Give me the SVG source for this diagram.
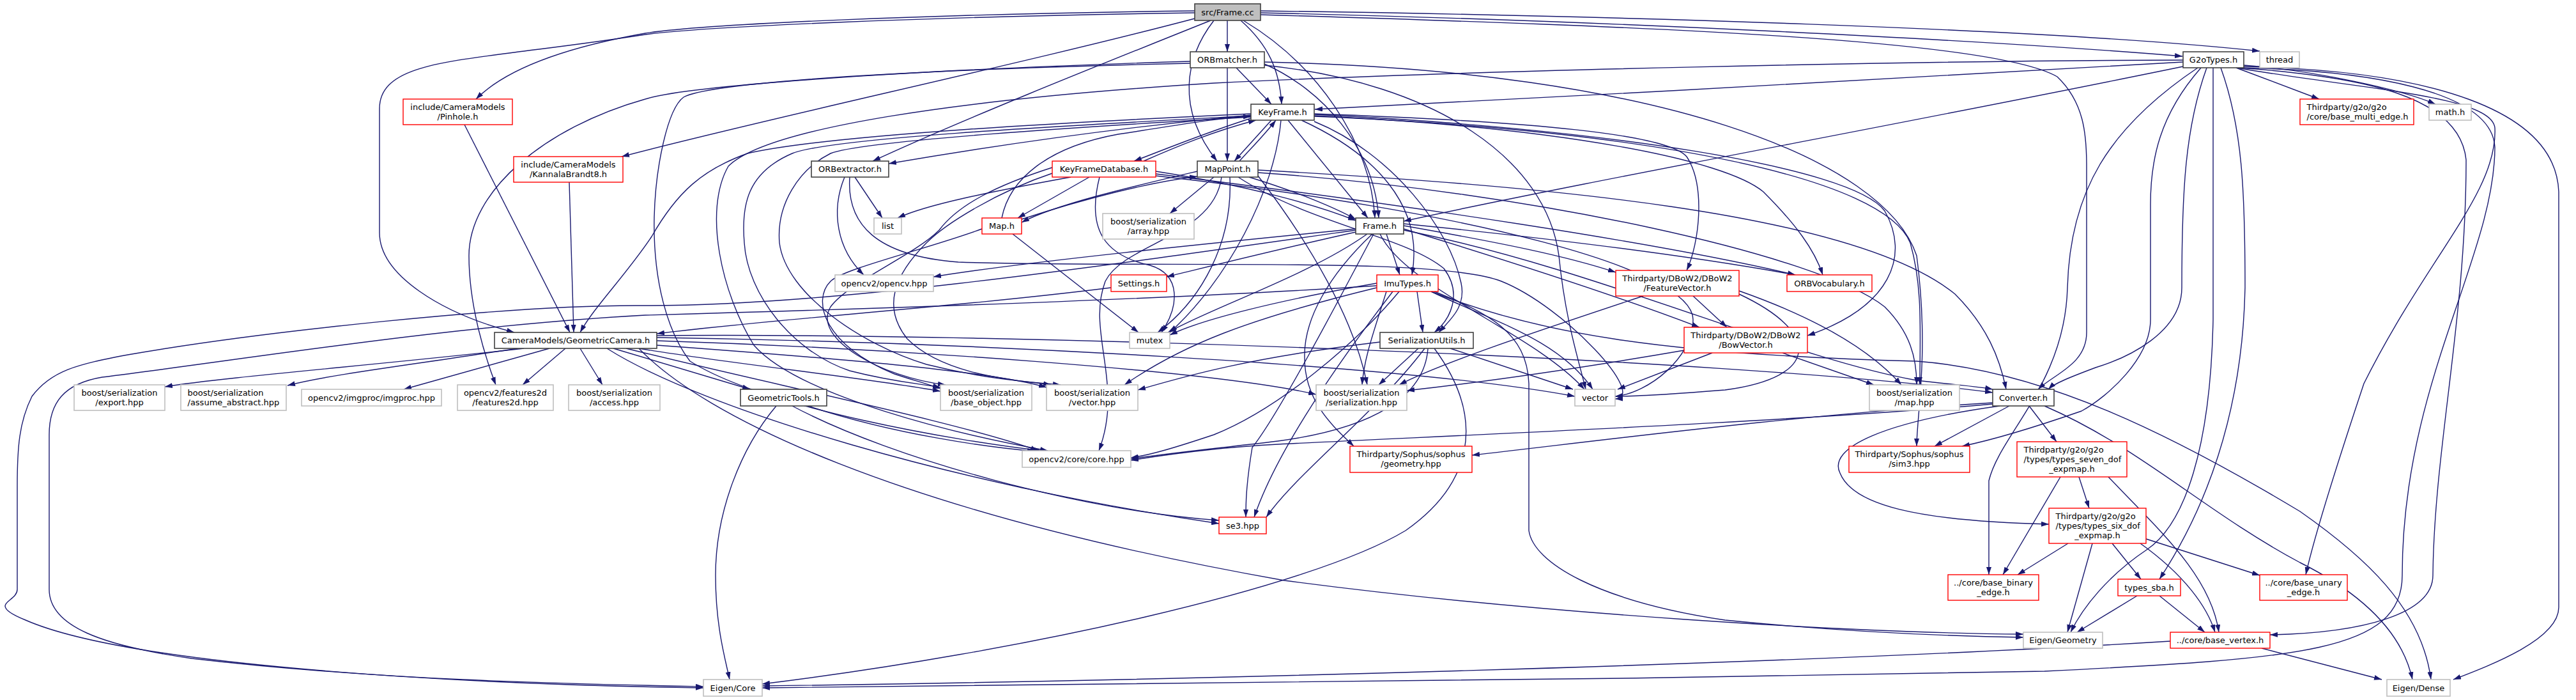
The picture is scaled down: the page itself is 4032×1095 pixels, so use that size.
<svg xmlns="http://www.w3.org/2000/svg" width="4032" height="1095" viewBox="0 0 4032 1095">
<defs>
<marker id="ah" viewBox="0 0 12 8" refX="12" refY="4" markerWidth="12" markerHeight="8" markerUnits="userSpaceOnUse" orient="auto"><path d="M0,0 L12,4 L0,8 z" fill="#191970"/></marker>
<style>
.e path{fill:none;stroke:#191970;stroke-width:1.4;marker-end:url(#ah)}
rect.k{fill:#fff;stroke:#404040;stroke-width:1.6}
rect.c{fill:#bfbfbf;stroke:#404040;stroke-width:1.6}
rect.r{fill:#fff;stroke:#ff0000;stroke-width:1.4}
rect.g{fill:#fff;stroke:#bfbfbf;stroke-width:1.6}
text{font-family:"DejaVu Sans","Liberation Sans",sans-serif;font-size:13px;fill:#000;text-anchor:middle}
text.l{text-anchor:start}
</style>
</defs>
<rect width="4032" height="1095" fill="#fff"/>
<g class="e" id="edges">
<path d="M1921,32 L1921,81"/>
<path d="M1942,32 C1985,70 2003,110 2006,163"/>
<path d="M1900,32 C1855,90 1840,170 1905,252"/>
<path d="M1946,32 C2060,100 2145,220 2152,341"/>
<path d="M1895,32 C1700,110 1500,190 1366,252"/>
<path d="M1870,17 C1450,22 1100,38 1010,52 C880,75 790,110 745,155"/>
<path d="M1870,20 C1450,26 1100,42 1010,54 C920,68 850,76 805,82 C680,98 594,108 594,170 L594,364 C594,430 690,490 805,520"/>
<path d="M1870,29 C1600,100 1200,185 973,245"/>
<path d="M1973,20 C2500,32 3100,62 3416,88"/>
<path d="M1973,17 C2500,24 3200,44 3537,80"/>
<path d="M1973,23 C2600,42 3120,62 3220,120 C3262,160 3266,210 3266,260 L3266,520 C3266,570 3215,585 3190,609"/>
<path d="M1935,106 L1990,163"/>
<path d="M1921,106 L1921,252"/>
<path d="M1979,100 C2070,140 2150,230 2158,341"/>
<path d="M1863,96 C1400,110 1070,135 1010,155 C850,200 734,300 734,400 C734,480 760,560 776,602"/>
<path d="M1863,99 C1300,112 1100,135 1070,152 C1045,170 1026,260 1024,340 C1022,440 1045,520 1080,565 C1200,640 1500,690 1630,705"/>
<path d="M1979,102 C2250,130 2420,250 2440,400 C2450,500 2470,560 2482,609"/>
<path d="M1979,97 C2600,110 2950,250 3000,400 C3020,550 3000,650 3000,698"/>
<path d="M1990,188 L1932,252"/>
<path d="M1958,185 C1880,210 1820,235 1775,252"/>
<path d="M1958,180 C1800,195 1600,220 1391,256"/>
<path d="M2016,188 L2141,341"/>
<path d="M2057,178 C2400,190 2610,210 2640,245 C2670,290 2660,380 2640,423"/>
<path d="M2057,179 C2500,200 2900,260 2950,330 C2990,400 2960,480 2829,525"/>
<path d="M2057,181 C2450,200 2700,250 2760,300 C2810,350 2840,390 2853,430"/>
<path d="M2037,188 C2150,240 2230,320 2210,430"/>
<path d="M1958,178 C1700,190 1300,210 1170,240 C1100,265 1060,300 1020,370 C980,430 930,480 908,520"/>
<path d="M2057,190 C2180,240 2270,360 2287,443 C2295,480 2270,500 2252,520"/>
<path d="M2005,188 C1995,300 1920,440 1831,520"/>
<path d="M1958,181 C1700,195 1300,215 1240,240 C1170,270 1160,320 1165,380 C1170,460 1240,550 1330,580 C1400,598 1440,600 1472,606"/>
<path d="M1958,183 C1700,198 1350,220 1300,240 C1250,265 1215,320 1220,380 C1230,460 1350,540 1450,570 C1550,595 1620,598 1660,602"/>
<path d="M2057,182 C2600,205 2950,280 2990,380 C3010,450 3005,520 3005,602"/>
<path d="M1940,252 C1960,230 1980,210 1997,188"/>
<path d="M1955,277 C2030,300 2090,325 2122,343"/>
<path d="M1874,268 C1780,290 1650,320 1599,348"/>
<path d="M1969,266 C2400,290 2900,330 3060,460 C3110,510 3130,560 3140,609"/>
<path d="M1969,270 C2400,300 2850,400 2950,480 C2990,520 3000,560 3000,602"/>
<path d="M1938,277 C2050,350 2200,370 2260,420 C2290,460 2270,500 2245,520"/>
<path d="M1912,277 C1900,370 1760,380 1730,440 C1700,520 1760,600 1720,705"/>
<path d="M1925,277 C1930,380 1880,470 1812,520"/>
<path d="M1969,275 C2050,380 2120,500 2140,602"/>
<path d="M1900,277 L1831,334"/>
<path d="M1599,343 C1700,310 1800,285 1874,276"/>
<path d="M1568,341 C1580,280 1640,230 1750,210 C1850,195 1900,185 1958,182"/>
<path d="M1585,366 L1782,520"/>
<path d="M1537,358 C1450,390 1320,420 1300,440 C1270,470 1290,540 1400,585 C1430,595 1450,600 1472,608"/>
<path d="M1790,252 C1840,230 1900,205 1966,188"/>
<path d="M1809,268 C1950,290 2060,320 2122,345"/>
<path d="M1809,272 C2200,320 2600,380 2810,430"/>
<path d="M1705,277 L1593,341"/>
<path d="M1676,277 C1550,300 1450,320 1405,341"/>
<path d="M1721,277 C1700,360 1730,400 1800,415 C1850,430 1845,480 1818,520"/>
<path d="M1647,262 C1560,290 1500,320 1470,360 C1430,400 1330,440 1300,480 C1270,530 1380,590 1480,602"/>
<path d="M1650,270 C1560,300 1480,350 1450,380 C1400,430 1380,480 1420,530 C1480,590 1600,595 1645,602"/>
<path d="M1809,275 C2300,330 2650,420 2650,500 C2650,560 2580,615 2528,620"/>
<path d="M1338,277 L1381,341"/>
<path d="M1322,277 C1300,330 1310,390 1352,430"/>
<path d="M1330,277 C1325,350 1370,400 1500,410 C1800,420 2250,400 2350,440 C2450,480 2580,622 2528,624"/>
<path d="M1739,450 C1500,480 1200,500 1028,522"/>
<path d="M2160,366 C2200,450 2400,520 2480,609"/>
<path d="M2197,358 C2400,420 2550,470 2660,512"/>
<path d="M2197,353 C2350,380 2450,400 2529,426"/>
<path d="M2148,366 C2080,430 2040,500 2042,560 C2042,630 2090,670 2119,698"/>
<path d="M2170,366 L2191,430"/>
<path d="M2197,350 C2500,380 2700,410 2810,430"/>
<path d="M2197,360 C2500,420 2800,560 3000,595 C3060,602 3100,605 3119,609"/>
<path d="M2122,363 C2000,390 1880,420 1826,433"/>
<path d="M2140,366 C2050,430 1900,480 1828,520"/>
<path d="M2122,358 C1900,380 1600,410 1461,433"/>
<path d="M2122,360 C1700,420 1300,478 1010,478 C800,476 400,520 200,555 C120,570 80,580 50,620 C30,660 27,700 27,760 L27,922 C27,935 8,940 8,948 C8,955 20,962 40,970 C200,1040 700,1070 1101,1076"/>
<path d="M2150,366 C2090,480 2000,650 1960,700 C1950,760 1950,790 1950,809"/>
<path d="M2218,456 L2227,520"/>
<path d="M2240,456 C2330,500 2440,530 2493,609"/>
<path d="M2190,456 C2120,540 2000,640 1900,680 C1840,700 1800,712 1770,716"/>
<path d="M2155,447 C1800,470 1300,485 1010,493 C700,510 400,560 160,590 C100,600 77,630 77,680 L77,922 C77,980 160,1010 300,1030 C600,1065 900,1070 1101,1074"/>
<path d="M2245,456 C2330,490 2390,520 2393,600 L2393,830 C2400,880 2500,940 2700,970 C2900,990 3050,995 3167,997"/>
<path d="M2240,456 C2400,520 2600,555 3000,565 C3200,580 3400,680 3600,800 C3700,870 3790,950 3805,1063"/>
<path d="M2180,456 C2100,560 2000,700 1963,809"/>
<path d="M2155,443 C2000,470 1880,500 1831,524"/>
<path d="M2170,456 C2150,520 2135,560 2132,602"/>
<path d="M2155,450 C1950,500 1850,540 1760,602"/>
<path d="M2220,545 L2158,602"/>
<path d="M2270,545 L2462,609"/>
<path d="M2235,545 C2230,620 2150,670 2000,690 C1900,702 1820,710 1770,718"/>
<path d="M2245,545 C2330,660 2300,760 2200,830 C2050,920 1600,1020 1193,1070"/>
<path d="M2230,545 C2150,650 2030,740 1982,809"/>
<path d="M2160,535 C1950,560 1850,590 1781,610"/>
<path d="M820,545 C600,570 350,590 258,605"/>
<path d="M810,545 C650,570 520,585 450,603"/>
<path d="M860,545 L632,609"/>
<path d="M885,545 L818,602"/>
<path d="M908,545 L943,602"/>
<path d="M960,545 L1174,609"/>
<path d="M1000,545 C1150,570 1350,590 1472,612"/>
<path d="M1028,540 C1300,560 1550,580 1638,606"/>
<path d="M1028,533 C1400,545 1900,580 2060,617"/>
<path d="M980,545 C1200,600 1500,660 1625,705"/>
<path d="M950,545 C1100,640 1500,760 1908,819"/>
<path d="M1000,545 C1100,650 1400,800 2010,908 C2400,960 2900,990 3167,992"/>
<path d="M1028,528 C1500,535 2200,570 2465,620"/>
<path d="M1028,525 C1600,520 2700,560 3119,614"/>
<path d="M727,195 L892,520"/>
<path d="M891,285 L898,520"/>
<path d="M1265,635 C1400,680 1550,700 1620,706"/>
<path d="M1240,635 C1400,720 1700,800 1908,814"/>
<path d="M1215,635 C1160,700 1120,800 1120,900 C1120,980 1135,1030 1142,1063"/>
<path d="M2650,463 L2703,512"/>
<path d="M2572,463 C2400,520 2250,570 2190,602"/>
<path d="M2722,455 C2850,500 2930,550 2976,602"/>
<path d="M2722,460 C2850,520 2850,590 2700,610 C2600,618 2560,620 2528,620"/>
<path d="M2680,552 L2532,609"/>
<path d="M2636,548 C2450,580 2300,600 2202,611"/>
<path d="M2790,552 L2933,602"/>
<path d="M3176,635 L3219,691"/>
<path d="M3130,635 C2950,660 2860,700 2880,740 C2900,790 3000,815 3207,820"/>
<path d="M3119,630 C2800,650 2500,690 2304,712"/>
<path d="M3145,635 L3028,698"/>
<path d="M3119,632 C2800,660 2300,680 2000,695 C1900,700 1820,712 1770,720"/>
<path d="M3200,635 C3350,700 3450,800 3600,880 C3700,930 3760,990 3776,1063"/>
<path d="M3254,746 L3270,795"/>
<path d="M3225,746 L3135,899"/>
<path d="M3300,746 C3380,830 3460,900 3473,989"/>
<path d="M3237,850 L3158,899"/>
<path d="M3275,850 L3236,989"/>
<path d="M3306,850 L3351,906"/>
<path d="M3350,850 C3420,900 3455,950 3467,989"/>
<path d="M3359,843 L3537,900"/>
<path d="M3345,932 L3251,989"/>
<path d="M3380,932 L3451,989"/>
<path d="M3397,1003 C2800,1040 1800,1065 1193,1073"/>
<path d="M3540,1014 L3728,1063"/>
<path d="M3417,97 C3000,120 2500,150 2058,171"/>
<path d="M3417,104 C3000,190 2500,280 2197,346"/>
<path d="M3417,94 C3000,95 2300,110 1900,130 C1500,155 1200,200 1140,260 C1100,330 1130,460 1180,540 C1250,620 1500,680 1640,705"/>
<path d="M3500,106 L3630,155"/>
<path d="M3512,102 C3620,110 3760,140 3812,163"/>
<path d="M3454,106 C3420,200 3415,300 3415,450 C3415,520 3330,560 3280,575 C3240,590 3215,600 3206,609"/>
<path d="M3445,106 C3380,180 3366,250 3366,320 L3366,500 C3366,560 3300,620 3258,643 C3180,670 3110,690 3071,698"/>
<path d="M3464,106 L3464,500 C3460,700 3420,820 3360,860 C3300,900 3260,950 3241,989"/>
<path d="M3476,106 C3510,200 3514,300 3514,450 C3510,650 3450,800 3380,906"/>
<path d="M3500,106 C3700,140 3900,150 3905,200 C3910,300 3800,400 3700,600 C3650,750 3620,850 3609,899"/>
<path d="M3505,106 C3700,120 3850,150 3860,250 C3860,500 3810,700 3808,900 C3808,960 3700,990 3553,993"/>
<path d="M3508,106 C3700,110 3900,140 3905,230 C3905,400 3760,600 3760,900 C3760,1020 3600,1030 3200,1050 C2500,1065 1600,1070 1193,1076"/>
<path d="M3512,104 C3800,110 4000,170 4005,300 L4005,950 C4005,1000 3900,1040 3840,1063"/>
<path d="M3440,106 C3300,200 3240,300 3236,450 C3232,600 3130,680 3113,752 L3113,899"/>
</g>
<g id="n_frame_cc"><rect class="c" x="1870" y="6" width="103" height="26"/><text x="1921.5" y="23.5">src/Frame.cc</text></g>
<g id="n_orbmatcher"><rect class="k" x="1863" y="81" width="116" height="25"/><text x="1921" y="98">ORBmatcher.h</text></g>
<g id="n_keyframe"><rect class="k" x="1958" y="163" width="99" height="25"/><text x="2007.5" y="180">KeyFrame.h</text></g>
<g id="n_orbextractor"><rect class="k" x="1270" y="252" width="121" height="25"/><text x="1330.5" y="269">ORBextractor.h</text></g>
<g id="n_kfdb"><rect class="r" x="1647" y="252" width="162" height="25"/><text x="1728" y="269">KeyFrameDatabase.h</text></g>
<g id="n_mappoint"><rect class="k" x="1874" y="252" width="95" height="25"/><text x="1921.5" y="269">MapPoint.h</text></g>
<g id="n_list"><rect class="g" x="1368" y="341" width="43" height="25"/><text x="1389.5" y="358">list</text></g>
<g id="n_map"><rect class="r" x="1537" y="341" width="62" height="25"/><text x="1568" y="358">Map.h</text></g>
<g id="n_array"><rect class="g" x="1726" y="334" width="143" height="40"/><text x="1797.5" y="350.5">boost/serialization</text><text x="1797.5" y="365.5">/array.hpp</text></g>
<g id="n_opencv"><rect class="g" x="1307" y="430" width="154" height="26"/><text x="1384" y="447.5">opencv2/opencv.hpp</text></g>
<g id="n_settings"><rect class="r" x="1739" y="430" width="87" height="26"/><text x="1782.5" y="447.5">Settings.h</text></g>
<g id="n_mutex"><rect class="g" x="1768" y="520" width="63" height="25"/><text x="1799.5" y="537">mutex</text></g>
<g id="n_frame_h"><rect class="k" x="2122" y="341" width="75" height="25"/><text x="2159.5" y="358">Frame.h</text></g>
<g id="n_imutypes"><rect class="r" x="2155" y="430" width="96" height="26"/><text x="2203" y="447.5">ImuTypes.h</text></g>
<g id="n_serutils"><rect class="k" x="2160" y="520" width="146" height="25"/><text x="2233" y="537">SerializationUtils.h</text></g>
<g id="n_featvec"><rect class="r" x="2529" y="423" width="193" height="40"/><text x="2625.5" y="439.5">Thirdparty/DBoW2/DBoW2</text><text x="2625.5" y="454.5">/FeatureVector.h</text></g>
<g id="n_orbvoc"><rect class="r" x="2797" y="430" width="133" height="26"/><text x="2863.5" y="447.5">ORBVocabulary.h</text></g>
<g id="n_bowvec"><rect class="r" x="2636" y="512" width="193" height="40"/><text x="2732.5" y="528.5">Thirdparty/DBoW2/DBoW2</text><text x="2732.5" y="543.5">/BowVector.h</text></g>
<g id="n_g2otypes"><rect class="k" x="3417" y="81" width="95" height="25"/><text x="3464.5" y="98">G2oTypes.h</text></g>
<g id="n_thread"><rect class="g" x="3537" y="81" width="62" height="25"/><text x="3568" y="98">thread</text></g>
<g id="n_multiedge"><rect class="r" x="3600" y="155" width="178" height="40"/><text class="l" x="3610.5" y="171.5">Thirdparty/g2o/g2o</text><text class="l" x="3610.5" y="186.5">/core/base_multi_edge.h</text></g>
<g id="n_math"><rect class="g" x="3802" y="163" width="66" height="25"/><text x="3835" y="180">math.h</text></g>
<g id="n_pinhole"><rect class="r" x="631" y="155" width="171" height="40"/><text x="716.5" y="171.5">include/CameraModels</text><text x="716.5" y="186.5">/Pinhole.h</text></g>
<g id="n_kannala"><rect class="r" x="804" y="245" width="171" height="40"/><text x="889.5" y="261.5">include/CameraModels</text><text x="889.5" y="276.5">/KannalaBrandt8.h</text></g>
<g id="n_geocam"><rect class="k" x="774" y="520" width="254" height="25"/><text x="901" y="537">CameraModels/GeometricCamera.h</text></g>
<g id="n_export"><rect class="g" x="116" y="602" width="142" height="40"/><text x="187" y="618.5">boost/serialization</text><text x="187" y="633.5">/export.hpp</text></g>
<g id="n_assume"><rect class="g" x="283" y="602" width="165" height="40"/><text class="l" x="293.5" y="618.5">boost/serialization</text><text class="l" x="293.5" y="633.5">/assume_abstract.hpp</text></g>
<g id="n_imgproc"><rect class="g" x="472" y="609" width="219" height="26"/><text x="581.5" y="626.5">opencv2/imgproc/imgproc.hpp</text></g>
<g id="n_features2d"><rect class="g" x="716" y="602" width="150" height="40"/><text x="791" y="618.5">opencv2/features2d</text><text x="791" y="633.5">/features2d.hpp</text></g>
<g id="n_access"><rect class="g" x="890" y="602" width="143" height="40"/><text x="961.5" y="618.5">boost/serialization</text><text x="961.5" y="633.5">/access.hpp</text></g>
<g id="n_geotools"><rect class="k" x="1159" y="609" width="135" height="26"/><text x="1226.5" y="626.5">GeometricTools.h</text></g>
<g id="n_baseobj"><rect class="g" x="1472" y="602" width="143" height="40"/><text x="1543.5" y="618.5">boost/serialization</text><text x="1543.5" y="633.5">/base_object.hpp</text></g>
<g id="n_vechpp"><rect class="g" x="1638" y="602" width="143" height="40"/><text x="1709.5" y="618.5">boost/serialization</text><text x="1709.5" y="633.5">/vector.hpp</text></g>
<g id="n_core"><rect class="g" x="1600" y="705" width="170" height="26"/><text x="1685" y="722.5">opencv2/core/core.hpp</text></g>
<g id="n_se3"><rect class="r" x="1908" y="809" width="74" height="26"/><text x="1945" y="826.5">se3.hpp</text></g>
<g id="n_eigencore"><rect class="g" x="1101" y="1063" width="92" height="26"/><text x="1147" y="1080.5">Eigen/Core</text></g>
<g id="n_serhpp"><rect class="g" x="2060" y="602" width="142" height="40"/><text x="2131" y="618.5">boost/serialization</text><text x="2131" y="633.5">/serialization.hpp</text></g>
<g id="n_vector"><rect class="g" x="2465" y="609" width="63" height="26"/><text x="2496.5" y="626.5">vector</text></g>
<g id="n_maphpp"><rect class="g" x="2926" y="602" width="141" height="40"/><text x="2996.5" y="618.5">boost/serialization</text><text x="2996.5" y="633.5">/map.hpp</text></g>
<g id="n_geometry"><rect class="r" x="2113" y="698" width="191" height="41"/><text x="2208.5" y="714.5">Thirdparty/Sophus/sophus</text><text x="2208.5" y="729.5">/geometry.hpp</text></g>
<g id="n_sim3"><rect class="r" x="2894" y="698" width="189" height="41"/><text x="2988.5" y="714.5">Thirdparty/Sophus/sophus</text><text x="2988.5" y="729.5">/sim3.hpp</text></g>
<g id="n_converter"><rect class="k" x="3119" y="609" width="96" height="26"/><text x="3167" y="626.5">Converter.h</text></g>
<g id="n_sevendof"><rect class="r" x="3157" y="691" width="172" height="55"/><text class="l" x="3167.5" y="707.5">Thirdparty/g2o/g2o</text><text class="l" x="3167.5" y="722.5">/types/types_seven_dof</text><text x="3243" y="737.5">_expmap.h</text></g>
<g id="n_sixdof"><rect class="r" x="3207" y="795" width="152" height="55"/><text class="l" x="3217.5" y="811.5">Thirdparty/g2o/g2o</text><text class="l" x="3217.5" y="826.5">/types/types_six_dof</text><text x="3283" y="841.5">_expmap.h</text></g>
<g id="n_binary"><rect class="r" x="3049" y="899" width="142" height="40"/><text x="3120" y="915.5">../core/base_binary</text><text x="3120" y="930.5">_edge.h</text></g>
<g id="n_sba"><rect class="r" x="3315" y="906" width="98" height="26"/><text x="3364" y="923.5">types_sba.h</text></g>
<g id="n_unary"><rect class="r" x="3537" y="899" width="137" height="40"/><text x="3605.5" y="915.5">../core/base_unary</text><text x="3605.5" y="930.5">_edge.h</text></g>
<g id="n_eigengeo"><rect class="g" x="3167" y="989" width="124" height="25"/><text x="3229" y="1006">Eigen/Geometry</text></g>
<g id="n_vertex"><rect class="r" x="3397" y="989" width="156" height="25"/><text x="3475" y="1006">../core/base_vertex.h</text></g>
<g id="n_eigendense"><rect class="g" x="3736" y="1063" width="99" height="26"/><text x="3785.5" y="1080.5">Eigen/Dense</text></g>
</svg>
